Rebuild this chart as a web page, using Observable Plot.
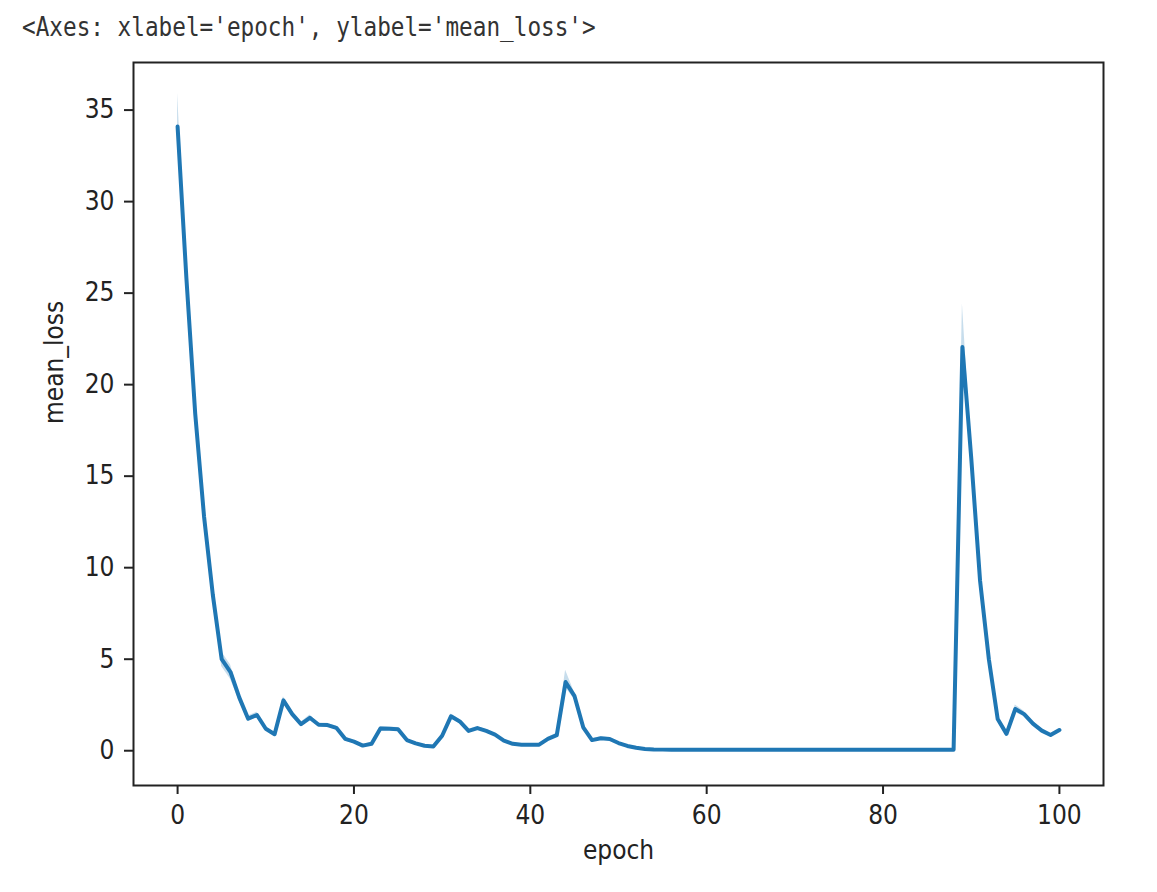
<!DOCTYPE html>
<html>
<head>
<meta charset="utf-8">
<script src="https://cdn.jsdelivr.net/npm/d3@7"></script>
<script src="https://cdn.jsdelivr.net/npm/@observablehq/plot@0.6"></script>
<style>
  html, body { margin: 0; padding: 0; background: #fff; }
  #wrap { position: relative; width: 1157px; height: 892px; }
  #title {
    position: absolute; left: 22px; top: 10px;
    font-family: "DejaVu Sans Mono", "Liberation Mono", monospace;
    font-size: 22.7px; line-height: 1.3; color: #333; white-space: pre;
    transform: scaleY(1.2); transform-origin: 0 0;
  }
  #chart { position: absolute; left: 0; top: 0; }
</style>
</head>
<body>
<div id="wrap">
  <div id="chart"></div>
  <div id="title"></div>
</div>
<script>
const titleText = "<Axes: xlabel='epoch', ylabel='mean_loss'>";
const xLabel = "epoch";
const yLabel = "mean_loss";
const xTicks = [0, 20, 40, 60, 80, 100];
const yTicks = [0, 5, 10, 15, 20, 25, 30, 35];

const epochs = d3.range(0, 101);
const meanLoss = [
  34.1, 25.8, 18.4, 12.8, 8.5, 5.0, 4.3, 2.9, 1.75, 1.95,
  1.2, 0.9, 2.75, 2.0, 1.45, 1.8, 1.42, 1.4, 1.25, 0.65,
  0.5, 0.28, 0.38, 1.22, 1.2, 1.17, 0.58, 0.4, 0.27, 0.23,
  0.82, 1.88, 1.6, 1.08, 1.24, 1.08, 0.88, 0.55, 0.38, 0.33,
  0.33, 0.33, 0.65, 0.85, 3.75, 3.0, 1.28, 0.58, 0.68, 0.64,
  0.42, 0.26, 0.16, 0.1, 0.07, 0.06, 0.05, 0.05, 0.05, 0.05,
  0.05, 0.05, 0.05, 0.05, 0.05, 0.05, 0.05, 0.05, 0.05, 0.05,
  0.05, 0.05, 0.05, 0.05, 0.05, 0.05, 0.05, 0.05, 0.05, 0.05,
  0.05, 0.05, 0.05, 0.05, 0.05, 0.05, 0.05, 0.05, 0.05, 22.05,
  16.0, 9.3, 5.0, 1.73, 0.92, 2.28, 2.0, 1.48, 1.1, 0.86,
  1.13
];
const ciLow = [
  33.7, 25.2, 17.9, 12.4, 8.2, 4.6, 3.9, 2.7, 1.6, 1.8,
  1.1, 0.8, 2.55, 1.85, 1.35, 1.65, 1.32, 1.3, 1.15, 0.57,
  0.43, 0.22, 0.32, 1.12, 1.1, 1.07, 0.5, 0.34, 0.22, 0.18,
  0.72, 1.75, 1.5, 1.0, 1.15, 1.0, 0.8, 0.48, 0.33, 0.28,
  0.28, 0.28, 0.57, 0.75, 3.45, 2.8, 1.15, 0.5, 0.6, 0.57,
  0.36, 0.22, 0.13, 0.08, 0.05, 0.04, 0.04, 0.04, 0.04, 0.04,
  0.04, 0.04, 0.04, 0.04, 0.04, 0.04, 0.04, 0.04, 0.04, 0.04,
  0.04, 0.04, 0.04, 0.04, 0.04, 0.04, 0.04, 0.04, 0.04, 0.04,
  0.04, 0.04, 0.04, 0.04, 0.04, 0.04, 0.04, 0.04, 0.04, 21.6,
  15.4, 8.9, 4.7, 1.6, 0.82, 2.1, 1.85, 1.38, 1.0, 0.78,
  1.05
];
const ciHigh = [
  35.9, 26.4, 18.9, 13.2, 8.8, 5.4, 4.7, 3.1, 1.9, 2.1,
  1.3, 1.0, 2.95, 2.15, 1.55, 1.95, 1.52, 1.5, 1.35, 0.73,
  0.57, 0.34, 0.44, 1.32, 1.3, 1.27, 0.66, 0.46, 0.32, 0.28,
  0.92, 2.0, 1.7, 1.16, 1.33, 1.16, 0.96, 0.62, 0.43, 0.38,
  0.38, 0.38, 0.73, 0.95, 4.4, 3.2, 1.41, 0.66, 0.76, 0.71,
  0.48, 0.3, 0.19, 0.12, 0.09, 0.08, 0.06, 0.06, 0.06, 0.06,
  0.06, 0.06, 0.06, 0.06, 0.06, 0.06, 0.06, 0.06, 0.06, 0.06,
  0.06, 0.06, 0.06, 0.06, 0.06, 0.06, 0.06, 0.06, 0.06, 0.06,
  0.06, 0.06, 0.06, 0.06, 0.06, 0.06, 0.06, 0.06, 0.06, 24.4,
  16.6, 9.7, 5.3, 1.9, 1.02, 2.5, 2.15, 1.58, 1.2, 0.94,
  1.21
];

const data = epochs.map((e, i) => ({epoch: e, loss: meanLoss[i], lo: ciLow[i], hi: ciHigh[i]}));

const tickFont = "'DejaVu Sans Condensed', 'DejaVu Sans', sans-serif";
const ink = "#222";
const blue = "#1f77b4";

const chart = Plot.plot({
  width: 1157,
  height: 892,
  marginLeft: 133,
  marginRight: 54,
  marginTop: 62,
  marginBottom: 107,
  style: {fontFamily: tickFont, color: ink, background: "#fff"},
  x: {domain: [-5, 105], label: null},
  y: {domain: [-1.9, 37.6], label: null},
  marks: [
    Plot.areaY(data, {x: "epoch", y1: "lo", y2: "hi", fill: blue, fillOpacity: 0.25}),
    Plot.line(data, {x: "epoch", y: "loss", stroke: blue, strokeWidth: 4, strokeLinejoin: "round"}),
    Plot.frame({stroke: ink, strokeWidth: 2}),
    Plot.axisX({ticks: xTicks, tickSize: 9, tickPadding: 11, fontSize: 26, strokeWidth: 2, label: null, tickFormat: d => String(d)}),
    Plot.axisY({ticks: yTicks, tickSize: 9, tickPadding: 10, fontSize: 26, strokeWidth: 2, label: null, tickFormat: d => String(d)}),
    Plot.text([xLabel], {text: d => d, frameAnchor: "bottom", dy: 73, fontSize: 26, fill: ink}),
    Plot.text([yLabel], {text: d => d, frameAnchor: "left", dx: -79, rotate: -90, fontSize: 26, fill: ink})
  ]
});
document.getElementById("chart").appendChild(chart);
document.getElementById("title").textContent = titleText;
</script>
</body>
</html>
